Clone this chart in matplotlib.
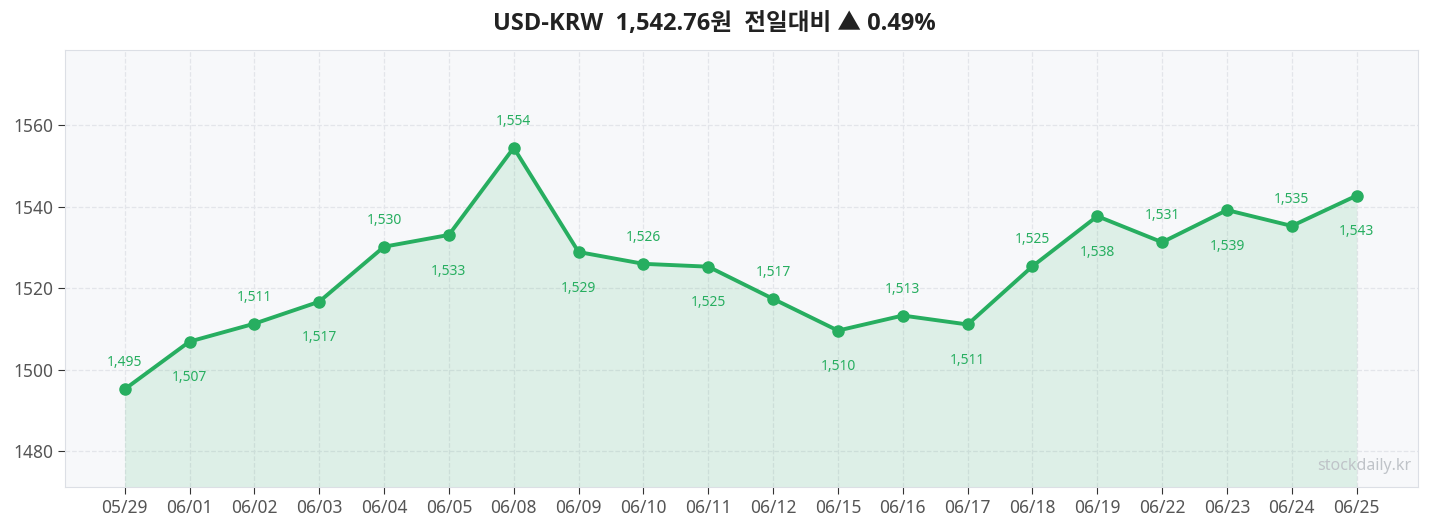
import numpy as np
import matplotlib
matplotlib.use('Agg')
import matplotlib.pyplot as plt

plt.rcParams['font.family'] = ['Noto Sans', 'Noto Sans CJK KR', 'DejaVu Sans']

DATES = ['05/29', '06/01', '06/02', '06/03', '06/04', '06/05', '06/08', '06/09', '06/10', '06/11',
         '06/12', '06/15', '06/16', '06/17', '06/18', '06/19', '06/22', '06/23', '06/24', '06/25']
RATES = [1495.2, 1506.9, 1511.3, 1516.7, 1530.2, 1533.1, 1554.5, 1528.9, 1526.0, 1525.3,
         1517.4, 1509.6, 1513.3, 1511.1, 1525.4, 1537.7, 1531.3, 1539.2, 1535.3, 1542.76]
TITLE = 'USD-KRW  1,542.76원  전일대비 ▲ 0.49%'

GREEN = '#27ae60'

fig = plt.figure(figsize=(14.29, 5.27), dpi=100)
ax = fig.add_axes([0.0455, 0.076, 0.947, 0.829])
ax.set_facecolor('#f7f8fa')

x = np.arange(len(RATES))
ymin, ymax = min(RATES) - 24, max(RATES) + 24
ax.fill_between(x, RATES, ymin, color=GREEN, alpha=0.12, linewidth=0)
ax.plot(x, RATES, color=GREEN, linewidth=2.8, marker='o', markersize=8, zorder=3)

for i, v in enumerate(RATES):
    dy = 19 if i % 2 == 0 else -26
    ax.annotate(f'{v:,.0f}', (i, v), xytext=(0, dy), textcoords='offset points',
                ha='center', va='center', fontsize=10, color=GREEN)

ax.set_xlim(-0.92, len(RATES) - 0.05)
ax.set_ylim(ymin, ymax)
ax.set_xticks(x)
ax.set_xticklabels(DATES)
ax.set_yticks([1480, 1500, 1520, 1540, 1560])
ax.tick_params(colors='#555555', labelsize=12.5, length=5)
ax.tick_params(axis='both', color='#333333')
ax.grid(True, linestyle='--', color='#e3e5ea', linewidth=0.9)
ax.set_axisbelow(True)
for s in ax.spines.values():
    s.set_color('#dcdfe5')

ax.text(0.995, 0.03, 'stockdaily.kr', transform=ax.transAxes, ha='right', va='bottom',
        fontsize=11.5, color='#bfc3c8')

fig.suptitle(TITLE, fontsize=17, fontweight='bold', color='#222222', y=0.978,
             family=['Open Sans', 'Noto Sans CJK KR', 'DejaVu Sans'])

fig.savefig('out.png', dpi=100)
